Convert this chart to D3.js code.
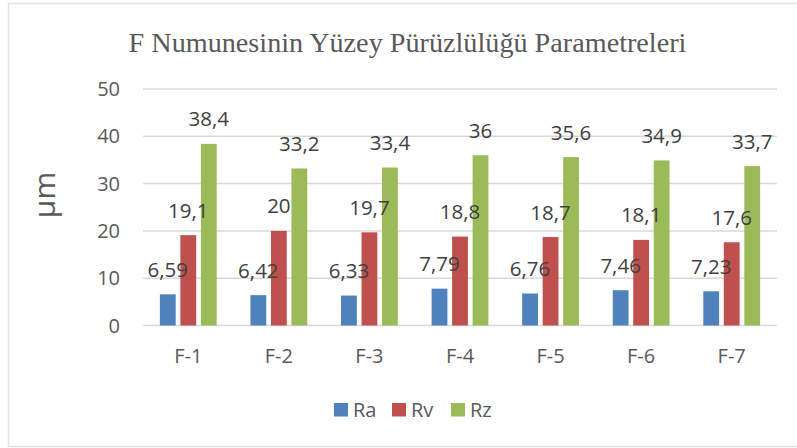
<!DOCTYPE html>
<html>
<head>
<meta charset="utf-8">
<script src="https://cdn.jsdelivr.net/npm/d3@7"></script>
<style>
  html, body { margin: 0; padding: 0; background: #fff; }
  svg { display: block; }
</style>
</head>
<body>
<svg id="chart" width="797" height="448"></svg>
<script>
// Surface roughness parameters of sample F (µm)
const categories = ["F-1", "F-2", "F-3", "F-4", "F-5", "F-6", "F-7"];
const seriesNames = ["Ra", "Rv", "Rz"];
const raValues = [6.59, 6.42, 6.33, 7.79, 6.76, 7.46, 7.23];
const rvValues = [19.1, 20, 19.7, 18.8, 18.7, 18.1, 17.6];
const rzValues = [38.4, 33.2, 33.4, 36, 35.6, 34.9, 33.7];
const yTicks = [0, 10, 20, 30, 40, 50];
const titleText = "F Numunesinin Yüzey Pürüzlülüğü Parametreleri";
const yAxisTitle = "µm";

const seriesValues = [raValues, rvValues, rzValues];
const colors = ["#4F81BD", "#C0504D", "#9BBB59"];
const textColor = "#595959";
const font = "'Open Sans', sans-serif";

const svg = d3.select("#chart");

// outer chart frame
svg.append("rect")
  .attr("x", 8.5).attr("y", 3.5)
  .attr("width", 800).attr("height", 443)
  .attr("fill", "#fff")
  .attr("stroke", "#E3E3E3").attr("stroke-width", 1.5);

const plot = { left: 143, right: 777, top: 89, bottom: 325.5 };

const x = d3.scaleBand()
  .domain(categories)
  .range([plot.left, plot.right])
  .paddingInner(0).paddingOuter(0);

const y = d3.scaleLinear()
  .domain([0, 50])
  .range([plot.bottom, plot.top]);

const barStep = 20.5;
const barWidth = 15.8;

// gridlines
svg.append("g")
  .selectAll("line")
  .data(yTicks)
  .join("line")
  .attr("x1", plot.left).attr("x2", plot.right)
  .attr("y1", d => y(d)).attr("y2", d => y(d))
  .attr("stroke", "#D9D9D9").attr("stroke-width", 1.5);

// y tick labels
svg.append("g")
  .selectAll("text")
  .data(yTicks)
  .join("text")
  .attr("x", 120)
  .attr("y", d => y(d) + 7)
  .attr("text-anchor", "end")
  .attr("font-family", font).attr("font-size", 20)
  .attr("fill", textColor)
  .text(d => d);

// category labels
svg.append("g")
  .selectAll("text")
  .data(categories)
  .join("text")
  .attr("x", d => x(d) + x.bandwidth() / 2)
  .attr("y", 363)
  .attr("text-anchor", "middle")
  .attr("font-family", font).attr("font-size", 20)
  .attr("fill", textColor)
  .text(d => d);

const fmt = v => String(v).replace(".", ",");

const rowsFor = (vals, si) => categories.map((c, i) => ({ c, v: vals[i], off: (si - 1) * barStep }));

// bars, all series first
seriesValues.forEach((vals, si) => {
  svg.append("g")
    .selectAll("rect")
    .data(rowsFor(vals, si))
    .join("rect")
    .attr("x", d => x(d.c) + x.bandwidth() / 2 + d.off - barWidth / 2)
    .attr("y", d => y(d.v))
    .attr("width", barWidth)
    .attr("height", d => y(0) - y(d.v))
    .attr("fill", colors[si]);
});

// value labels on top of all bars
seriesValues.forEach((vals, si) => {
  svg.append("g")
    .selectAll("text")
    .data(rowsFor(vals, si))
    .join("text")
    .attr("x", d => x(d.c) + x.bandwidth() / 2 + d.off)
    .attr("y", d => y(d.v) - 17.5)
    .attr("text-anchor", "middle")
    .attr("font-family", font).attr("font-size", 20.5)
    .attr("fill", "#404040")
    .text(d => fmt(d.v));
});

// chart title
svg.append("text")
  .attr("x", 407.5).attr("y", 51.5)
  .attr("text-anchor", "middle")
  .attr("font-family", "'Liberation Serif', 'Times New Roman', serif")
  .attr("font-size", 28.2)
  .attr("fill", textColor)
  .text(titleText);

// y axis title
svg.append("text")
  .attr("transform", "translate(55,195) rotate(-90)")
  .attr("text-anchor", "middle")
  .attr("font-family", font).attr("font-size", 30)
  .attr("fill", textColor)
  .text(yAxisTitle);

// legend
const legendX = [334, 392, 451];
const legend = svg.append("g");
seriesNames.forEach((name, i) => {
  legend.append("rect")
    .attr("x", legendX[i]).attr("y", 403)
    .attr("width", 14).attr("height", 13.5)
    .attr("fill", colors[i]);
  legend.append("text")
    .attr("x", legendX[i] + 19).attr("y", 417)
    .attr("font-family", font).attr("font-size", 20)
    .attr("fill", textColor)
    .text(name);
});
</script>
</body>
</html>
